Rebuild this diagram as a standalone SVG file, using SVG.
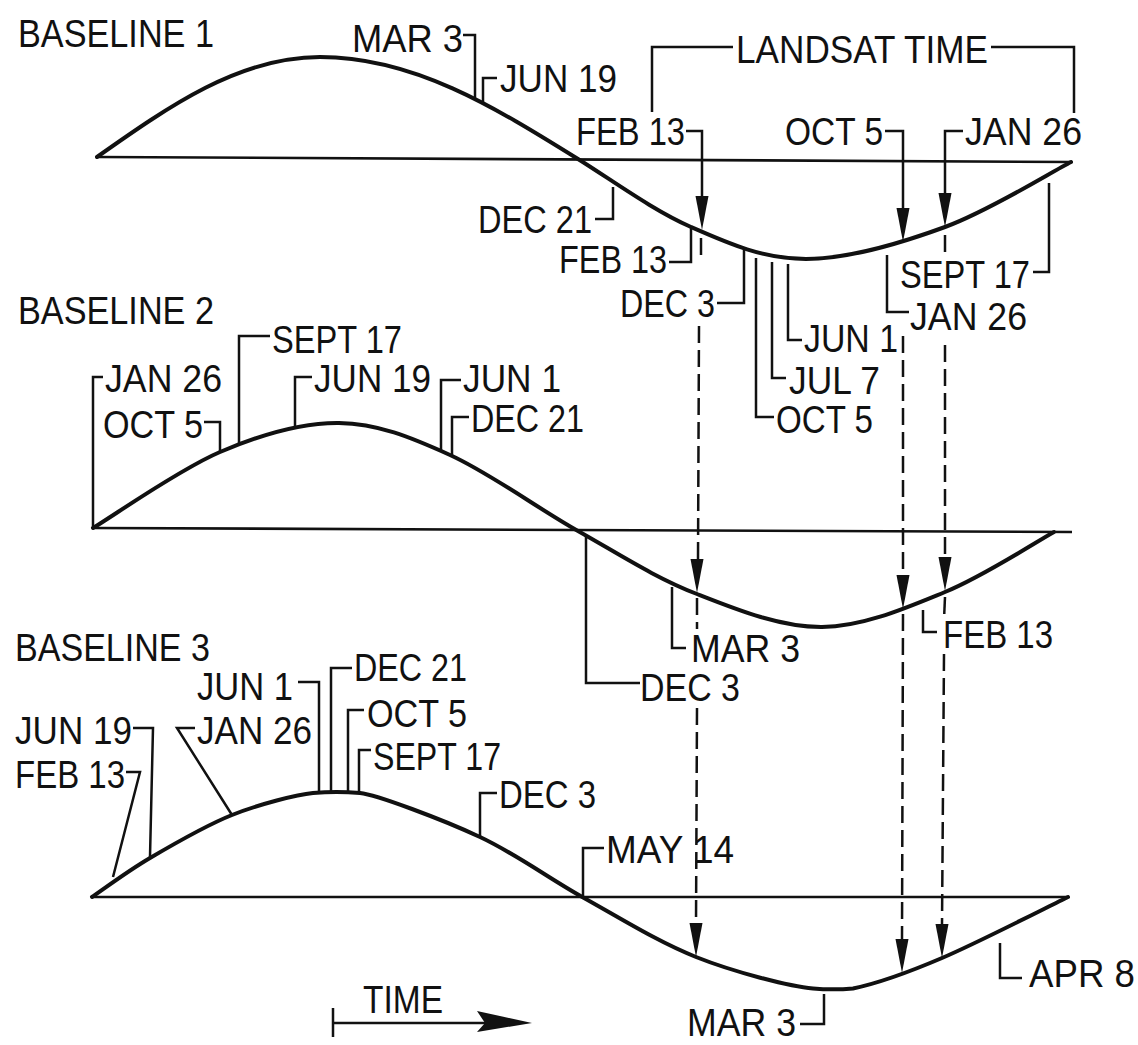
<svg xmlns="http://www.w3.org/2000/svg" xmlns:xlink="http://www.w3.org/1999/xlink" width="1138" height="1045" viewBox="0 0 1138 1045">
<style>
.cv{fill:none;stroke:#111;stroke-width:4;stroke-linejoin:round;stroke-linecap:round}
.bl{fill:none;stroke:#111;stroke-width:2.6}
.ld{fill:none;stroke:#111;stroke-width:2.5}
.ds{fill:none;stroke:#111;stroke-width:2.5;stroke-dasharray:17 7}
.ah{fill:#111}
text{font-family:"Liberation Sans Narrow","Liberation Sans",Arial,sans-serif;font-size:38px;fill:#111}
</style>
<defs>
<path id="ah" d="M0,0 L-6.5,-34 L6.5,-34 Z"/>
</defs>
<rect width="1138" height="1045" fill="#ffffff"/>

<g id="baseline1">
<text x="18" y="47" textLength="196" lengthAdjust="spacingAndGlyphs">BASELINE 1</text>
<path class="bl" d="M97,157 L1072,162"/>
<path class="cv" d="M97,157 C169.7,105.8 239.3,57 320,57 C413.4,57 493.9,106.7 578,159 C612.5,180.5 653,210.3 691,227 C729,243.7 763.7,259 806,259 C848.3,259 900.8,243.2 945,227 C989.2,210.8 1050,172.8 1071,162"/>
</g>

<g id="baseline2">
<text x="18" y="324" textLength="196" lengthAdjust="spacingAndGlyphs">BASELINE 2</text>
<path class="bl" d="M93,528 L1072,532"/>
<path class="cv" d="M93,528 C114.2,515.3 179,469.5 220,452 C261,434.5 300.7,422.5 339,423 C377.3,423.5 410.2,437 450,455 C489.8,473 536.8,507.8 578,531 C619.2,554.2 655.5,578 697,594 C737.7,610 780.7,627.3 822,627 C863.3,626.7 906.3,607.8 945,592 C983.7,576.2 1035.8,542 1054,532"/>
</g>

<g id="baseline3">
<text x="15" y="661" textLength="195" lengthAdjust="spacingAndGlyphs">BASELINE 3</text>
<path class="bl" d="M92,897 L1068,897"/>
<path class="cv" d="M92,897 C101.7,890.5 126.7,871.7 150,858 C173.3,844.3 204.8,825.8 232,815 C259.2,804.2 297,794.5 313,793 C329,791.5 344,791.5 360,793 C376,794.5 442.7,819.5 480,837 C517.3,854.5 548,878 584,898 C620,918 657.8,941.8 696,957 C734.2,972.2 790,986.5 813,988.5 C826,989.6 840,989.6 853,988.5 C874.5,984 906.2,973.3 942,958 C977.8,942.7 1047,907.2 1068,897"/>
</g>

<g id="labels1">
<text x="352" y="52" textLength="111" lengthAdjust="spacingAndGlyphs">MAR 3</text>
<text x="500" y="92" textLength="117" lengthAdjust="spacingAndGlyphs">JUN 19</text>
<text x="736" y="63" textLength="252" lengthAdjust="spacingAndGlyphs">LANDSAT TIME</text>
<text x="576" y="145" textLength="109" lengthAdjust="spacingAndGlyphs">FEB 13</text>
<text x="785" y="145" textLength="98" lengthAdjust="spacingAndGlyphs">OCT 5</text>
<text x="965" y="145" textLength="117" lengthAdjust="spacingAndGlyphs">JAN 26</text>
<text x="478" y="233" textLength="114" lengthAdjust="spacingAndGlyphs">DEC 21</text>
<text x="559" y="273" textLength="108" lengthAdjust="spacingAndGlyphs">FEB 13</text>
<text x="620" y="317" textLength="95" lengthAdjust="spacingAndGlyphs">DEC 3</text>
<text x="900" y="288" textLength="130" lengthAdjust="spacingAndGlyphs">SEPT 17</text>
<text x="910" y="330" textLength="117" lengthAdjust="spacingAndGlyphs">JAN 26</text>
<text x="804" y="352" textLength="94" lengthAdjust="spacingAndGlyphs">JUN 1</text>
<text x="789" y="394" textLength="91" lengthAdjust="spacingAndGlyphs">JUL 7</text>
<text x="776" y="433" textLength="97" lengthAdjust="spacingAndGlyphs">OCT 5</text>
</g>

<g id="labels2">
<text x="272" y="353" textLength="130" lengthAdjust="spacingAndGlyphs">SEPT 17</text>
<text x="105" y="392" textLength="117" lengthAdjust="spacingAndGlyphs">JAN 26</text>
<text x="103" y="438" textLength="100" lengthAdjust="spacingAndGlyphs">OCT 5</text>
<text x="314" y="392" textLength="117" lengthAdjust="spacingAndGlyphs">JUN 19</text>
<text x="463" y="392" textLength="98" lengthAdjust="spacingAndGlyphs">JUN 1</text>
<text x="471" y="432" textLength="113" lengthAdjust="spacingAndGlyphs">DEC 21</text>
<text x="691" y="662" textLength="109" lengthAdjust="spacingAndGlyphs">MAR 3</text>
<text x="640" y="701" textLength="100" lengthAdjust="spacingAndGlyphs">DEC 3</text>
<text x="943" y="648" textLength="110" lengthAdjust="spacingAndGlyphs">FEB 13</text>
</g>

<g id="labels3">
<text x="197" y="700" textLength="96" lengthAdjust="spacingAndGlyphs">JUN 1</text>
<text x="354" y="681" textLength="113" lengthAdjust="spacingAndGlyphs">DEC 21</text>
<text x="367" y="727" textLength="100" lengthAdjust="spacingAndGlyphs">OCT 5</text>
<text x="373" y="770" textLength="128" lengthAdjust="spacingAndGlyphs">SEPT 17</text>
<text x="15" y="744" textLength="117" lengthAdjust="spacingAndGlyphs">JUN 19</text>
<text x="197" y="744" textLength="115" lengthAdjust="spacingAndGlyphs">JAN 26</text>
<text x="15" y="788" textLength="110" lengthAdjust="spacingAndGlyphs">FEB 13</text>
<text x="499" y="808" textLength="97" lengthAdjust="spacingAndGlyphs">DEC 3</text>
<text x="606" y="863" textLength="128" lengthAdjust="spacingAndGlyphs">MAY 14</text>
<text x="1029" y="987" textLength="106" lengthAdjust="spacingAndGlyphs">APR 8</text>
<text x="687" y="1036" textLength="109" lengthAdjust="spacingAndGlyphs">MAR 3</text>
</g>

<g id="time-axis">
<text x="363" y="1013" textLength="80" lengthAdjust="spacingAndGlyphs">TIME</text>
<path class="ld" d="M333,1008 V1037 M333,1023 H488"/>
<polygon class="ah" points="477,1011 532,1023 477,1032 485,1023"/>
</g>

<g id="connectors">
<!-- baseline 1 leaders -->
<path class="ld" d="M463,35 H475 V100"/>
<path class="ld" d="M483,104 V78 H497"/>
<path class="ld" d="M652,112 V47 H733"/>
<path class="ld" d="M991,47 H1074 V113"/>
<path class="ld" d="M686,131 H702 V200"/>
<path class="ld" d="M885,131 H903 V212"/>
<path class="ld" d="M963,131 H945 V197"/>
<path class="ld" d="M595,219 H613 V187"/>
<path class="ld" d="M669,262 H691 V228"/>
<path class="ld" d="M717,303 H744 V250"/>
<path class="ld" d="M756,258 V417 H774"/>
<path class="ld" d="M772,262 V378 H786"/>
<path class="ld" d="M788,264 V340 H802"/>
<path class="ld" d="M1033,272 H1049 V183"/>
<path class="ld" d="M887,255 V312 H909"/>
<!-- baseline 2 leaders -->
<path class="ld" d="M93,528 V377 H103"/>
<path class="ld" d="M204,422 H220 V452"/>
<path class="ld" d="M270,336 H239 V444"/>
<path class="ld" d="M312,377 H295 V427"/>
<path class="ld" d="M461,380 H441 V451"/>
<path class="ld" d="M469,417 H452 V456"/>
<path class="ld" d="M586,536 V683 H640"/>
<path class="ld" d="M672,587 V648 H686"/>
<path class="ld" d="M923,610 V632 H937"/>
<!-- baseline 3 leaders -->
<path class="ld" d="M133,728 H153 L150,857"/>
<path class="ld" d="M126,772 H140 L113,877"/>
<path class="ld" d="M195,728 H177 L232,815"/>
<path class="ld" d="M298,682 H319 V791"/>
<path class="ld" d="M352,668 H331 V791"/>
<path class="ld" d="M364,710 H348 V791"/>
<path class="ld" d="M371,750 H359 V792"/>
<path class="ld" d="M497,793 H480 V837"/>
<path class="ld" d="M604,848 H583 V898"/>
<path class="ld" d="M800,1024 H824 V994"/>
<path class="ld" d="M1000,943 V978 H1022"/>
<!-- dashed projection lines -->
<path class="ds" d="M701,238 L701,258"/>
<path class="ds" d="M699,326 L698,560"/>
<path class="ds" d="M697,598 L697,629"/>
<path class="ds" d="M697,708 L696,924"/>
<path class="ds" d="M903,336 L903,575"/>
<path class="ds" d="M903,614 L902,940"/>
<path class="ds" d="M945,235 L945,253"/>
<path class="ds" d="M945,345 L945,557"/>
<path class="ds" d="M945,597 L944,620"/>
<path class="ds" d="M944,654 L942,925"/>
<!-- arrowheads -->
<use xlink:href="#ah" class="ah" transform="translate(702,230)"/>
<use xlink:href="#ah" class="ah" transform="translate(903,242)"/>
<use xlink:href="#ah" class="ah" transform="translate(945,227)"/>
<use xlink:href="#ah" class="ah" transform="translate(697,593)"/>
<use xlink:href="#ah" class="ah" transform="translate(903,609)"/>
<use xlink:href="#ah" class="ah" transform="translate(945,591)"/>
<use xlink:href="#ah" class="ah" transform="translate(696,957)"/>
<use xlink:href="#ah" class="ah" transform="translate(902,973)"/>
<use xlink:href="#ah" class="ah" transform="translate(942,958)"/>
</g>
</svg>
